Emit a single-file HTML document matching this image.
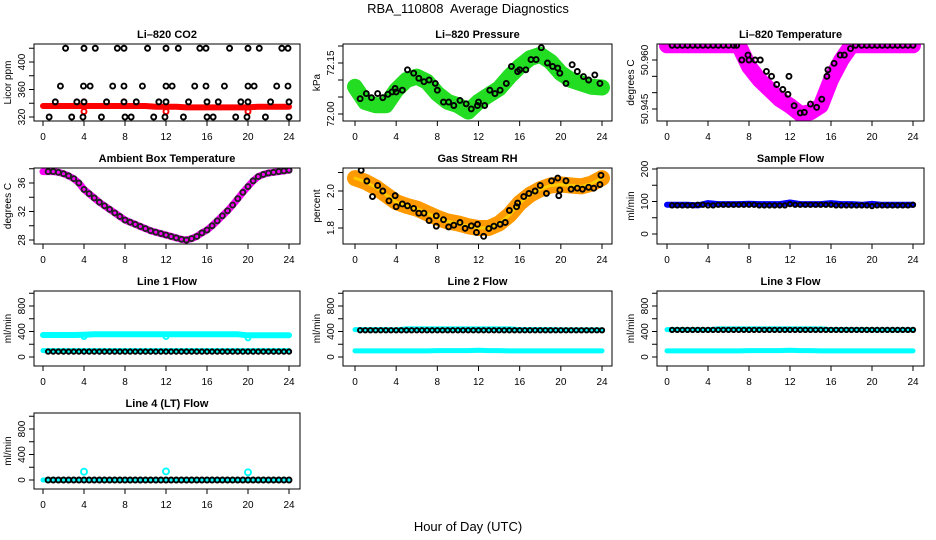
<!DOCTYPE html>
<html><head><meta charset="utf-8"><title>RBA_110808 Average Diagnostics</title>
<style>
html,body{margin:0;padding:0;background:#fff;}
svg{display:block;font-family:"Liberation Sans",sans-serif;}
text{white-space:pre;}
</style></head>
<body>
<svg id="chart" width="936" height="540" viewBox="0 0 936 540">
<text x="468" y="13" font-size="13" text-anchor="middle">RBA_110808  Average Diagnostics</text>
<text x="468" y="531" font-size="13" text-anchor="middle">Hour of Day (UTC)</text>
</svg>
<script>
// ---- data ----
const xTicks = [0,4,8,12,16,20,24];
const hourly = [0,1,2,3,4,5,6,7,8,9,10,11,12,13,14,15,16,17,18,19,20,21,22,23,24];
const halfHours = [0.5,1,1.5,2,2.5,3,3.5,4,4.5,5,5.5,6,6.5,7,7.5,8,8.5,9,9.5,10,10.5,11,11.5,12,12.5,13,13.5,14,14.5,15,15.5,16,16.5,17,17.5,18,18.5,19,19.5,20,20.5,21,21.5,22,22.5,23,23.5,24];

const co2Band = [336,336,336,336,336,336,336,336,336,336,336,335,335,335,334,334,334,334,334,334,334,335,335,335,335];
const co2Hours = [2.2,4.0,5.1,7.25,7.9,10.2,12.0,13.2,15.3,15.9,18.2,20.0,21.1,23.3,23.9,
 1.7,3.95,4.6,6.8,7.9,9.7,12.0,12.6,14.8,15.9,17.7,20.0,20.6,22.8,23.9,
 1.2,3.3,4.0,6.2,7.9,9.1,11.3,12.0,14.2,16.0,17.1,19.3,20.0,22.2,24.0,
 0.6,2.8,3.9,5.7,8.0,8.6,10.8,11.9,13.7,16.0,16.6,18.8,19.9,21.7,24.0];
const co2Vals = [420,420,420,420,420,420,420,420,420,420,420,420,420,420,420,
 365,365,365,365,365,365,365,365,365,365,365,365,365,365,365,
 342,342,342,342,342,342,342,342,342,342,342,342,342,342,342,
 320,320,320,320,320,320,320,320,320,320,320,320,320,320,320];
const co2OutHours = [4,12,20];
const co2OutVals = [328,328,328];

const presBand = [72.08,72.035,72.026,72.026,72.07,72.10,72.11,72.095,72.06,72.036,72.026,72.007,72.036,72.056,72.075,72.11,72.14,72.164,72.174,72.154,72.12,72.10,72.09,72.08,72.078];
const presHours = [0.5,1.1,1.6,2.2,2.7,3.2,3.6,3.9,4.0,4.6,5.1,5.7,6.2,6.7,7.2,7.8,8.0,8.6,9.1,9.6,10.2,10.8,11.3,11.9,12.0,12.6,13.1,13.6,14.1,14.7,15.2,15.8,16.0,16.6,17.1,17.6,18.1,18.7,19.2,19.7,19.9,20.5,21.1,21.6,22.2,22.7,23.3,23.8];
const presVals = [72.045,72.06,72.048,72.06,72.048,72.058,72.065,72.075,72.065,72.07,72.13,72.12,72.105,72.095,72.10,72.09,72.07,72.035,72.035,72.025,72.04,72.03,72.015,72.025,72.035,72.025,72.07,72.06,72.07,72.09,72.14,72.125,72.13,72.13,72.16,72.16,72.195,72.15,72.14,72.135,72.12,72.09,72.145,72.125,72.11,72.10,72.115,72.09];

const tempBand = [50.9645,50.9645,50.9645,50.9645,50.9645,50.9645,50.9645,50.9645,50.958,50.954,50.951,50.948,50.946,50.9435,50.944,50.946,50.954,50.960,50.9645,50.9645,50.9645,50.9645,50.9645,50.9645,50.9645];
const tempHours = [0.5,1,1.5,2,2.5,3,3.5,4,4.5,5,5.5,6,6.5,6.8,7.3,7.9,8.0,8.6,9.1,9.7,10.2,10.7,11.3,11.8,11.9,12.4,13.0,13.4,14.0,14.6,15.1,15.6,15.7,16.3,16.9,17.3,17.9,18.4,19,19.5,20,20.5,21,21.5,22,22.5,23,23.5,24];
const tempVals = [50.9645,50.9645,50.9645,50.9645,50.9645,50.9645,50.9645,50.9645,50.9645,50.9645,50.9645,50.9645,50.9645,50.9645,50.960,50.9615,50.960,50.960,50.960,50.9565,50.955,50.9525,50.951,50.9495,50.955,50.946,50.9438,50.944,50.9465,50.9455,50.948,50.955,50.957,50.959,50.9615,50.9615,50.9635,50.9645,50.9645,50.9645,50.9645,50.9645,50.9645,50.9645,50.9645,50.9645,50.9645,50.9645,50.9645];

const ambVals = [37.6,37.6,37.5,37.3,37.0,36.6,36.0,35.1,34.5,33.9,33.3,32.8,32.3,31.8,31.3,30.8,30.5,30.2,29.9,29.6,29.3,29.1,28.9,28.7,28.5,28.3,28.1,28.0,28.2,28.5,29.0,29.4,30.0,30.7,31.4,32.1,32.9,33.8,34.7,35.5,36.3,36.9,37.2,37.4,37.5,37.6,37.7,37.8];
const ambStart = 37.6;

const rhBand = [2.07,2.05,2.02,1.98,1.94,1.92,1.905,1.88,1.855,1.835,1.825,1.81,1.80,1.80,1.825,1.87,1.935,1.98,2.01,2.03,2.035,2.03,2.025,2.04,2.07];
const rhHours = [0.6,1.15,1.7,2.2,2.7,3.3,3.9,4.0,4.6,5.1,5.7,6.2,6.7,7.2,7.9,7.9,8.6,9.1,9.6,10.2,10.7,11.3,11.8,11.9,12.5,13.0,13.5,14.1,14.6,15.0,15.7,15.8,16.4,16.9,17.5,18.0,18.6,19.1,19.7,19.8,19.9,20.5,21.0,21.6,22.1,22.7,23.2,23.8,23.9];
const rhVals = [2.112,2.054,1.97,2.03,2.0,1.947,1.975,1.915,1.93,1.92,1.906,1.88,1.88,1.84,1.866,1.81,1.845,1.806,1.815,1.83,1.798,1.812,1.776,1.82,1.755,1.797,1.81,1.82,1.83,1.895,1.915,1.935,1.97,1.987,2.0,2.03,1.987,2.055,2.07,1.975,2.005,2.055,2.01,2.015,2.01,2.02,2.015,2.035,2.085];

const sampleBand = [90,90,90,88,95,92,92,92,93,92,92,92,97,92,92,92,95,92,92,90,93,90,90,90,90];
const sampleVals = [88,88,88,88,88,90,90,88,88,90,90,90,90,90,90,90,90,88,88,88,88,88,88,92,90,90,90,90,90,90,90,90,88,88,88,88,88,88,88,86,88,88,88,88,88,88,88,90];

const line1Top = [345,345,345,345,350,358,358,358,358,358,358,358,358,358,358,358,358,356,356,356,340,340,340,340,340];
const line1TopOutHours = [4,12,20];
const line1TopOutVals = [320,320,300];
const line1Low = [100,100,100,100,100,100,100,100,100,100,100,100,100,100,100,100,100,100,100,100,100,100,100,100,100];
const line1Black = 85;

const line2Top = [430,430,430,430,425,440,440,440,440,440,440,440,440,440,440,440,430,430,430,430,425,425,425,425,425];
const line2Low = [95,95,95,95,95,95,95,95,100,100,100,100,105,100,100,95,95,95,95,95,95,95,95,95,95];
const line2Black = 420;

const line3Top = [430,430,430,430,425,440,440,440,440,440,440,440,440,440,440,440,430,430,430,430,425,425,425,425,425];
const line3Low = [95,95,95,95,95,95,95,95,100,100,100,100,105,100,100,95,95,95,95,95,95,95,95,95,95];
const line3Black = 425;

const line4Band = [0,0,0,0,0,0,0,0,0,0,0,0,0,0,0,0,0,0,0,0,0,0,0,0,0];
const line4OutHours = [4,12,20];
const line4OutVals = [130,135,120];
const line4Black = 0;

// ---- drawing ----
const NS = 'http://www.w3.org/2000/svg';
const svg = document.getElementById('chart');
function mk(tag, attrs, parent){
  const e = document.createElementNS(NS, tag);
  for (const k in attrs) e.setAttribute(k, attrs[k]);
  (parent || svg).appendChild(e);
  return e;
}
let clipN = 0;
function panel(cfg){
  const [L,R,T,B] = cfg.box;
  const g = mk('g', {});
  
  
  const sx = h => cfg.x0 + (cfg.x24 - cfg.x0) * h / 24;
  const sy = v => cfg.p1 + (v - cfg.v1) * (cfg.p2 - cfg.p1) / (cfg.v2 - cfg.v1);
  const id = 'clip' + (clipN++);
  const cp = mk('clipPath', {id: id}, g);
  mk('rect', {x: L, y: T, width: R - L, height: B - T}, cp);
  const plot = mk('g', {'clip-path': 'url(#' + id + ')'}, g);
  
  
  const frame = mk('rect', {x: L, y: T, width: R - L, height: B - T, fill: 'none', stroke: '#000', 'stroke-width': 1}, g);
  
  
  const title = mk('text', {x: (L + R) / 2, y: T - 6, 'font-size': 11, 'font-weight': 'bold', 'text-anchor': 'middle'}, g);
  title.textContent = cfg.title;
  
  
  const xa = mk('g', {}, g);
  
  
  for (const t of xTicks) {
    mk('line', {x1: sx(t), x2: sx(t), y1: B, y2: B + 5, stroke: '#000'}, xa);
    const tx = mk('text', {x: sx(t), y: B + 19, 'font-size': 10, 'text-anchor': 'middle'}, xa);
    tx.textContent = String(t);
    
    
  }
  const ya = mk('g', {}, g);
  
  
  for (const t of cfg.yticks) {
    mk('line', {x1: L - 5, x2: L, y1: sy(t), y2: sy(t), stroke: '#000'}, ya);
  }
  for (const t of cfg.ylabels) {
    const tx = mk('text', {transform: 'translate(' + (L - 9) + ',' + sy(t) + ') rotate(-90)', 'font-size': 10, 'text-anchor': 'middle'}, ya);
    tx.textContent = typeof t === 'number' && cfg.fmt ? t.toFixed(cfg.fmt) : String(t);
    
    
  }
  const yl = mk('text', {transform: 'translate(' + (L - 23) + ',' + ((T + B) / 2) + ') rotate(-90)', 'font-size': 10, 'text-anchor': 'middle'}, g);
  yl.textContent = cfg.ylab;
  
  
  return {sx, sy, plot};
}
function band(P, xs, ys, color, w, name){
  const d = xs.map((x, i) => (i ? 'L' : 'M') + P.sx(x).toFixed(1) + ' ' + P.sy(ys[i]).toFixed(1)).join(' ');
  const p = mk('path', {d: d, fill: 'none', stroke: color, 'stroke-width': w, 'stroke-linecap': 'round', 'stroke-linejoin': 'round'}, P.plot);
  
  
}
function rings(P, xs, ys, color, name, r){
  const g = mk('g', {}, P.plot);
  
  
  xs.forEach((x, i) => {
    const c = mk('circle', {cx: P.sx(x), cy: P.sy(ys[i]), r: r || 2.5, fill: 'none', stroke: color, 'stroke-width': 1.9}, g);
    
    
  });
}
const col1 = {L: 34, R: 300, x0: 43, x24: 289};
const col2 = {L: 343, R: 612, x0: 355, x24: 602};
const col3 = {L: 657, R: 924, x0: 667, x24: 913};
const rows = [[44,121],[168,244],[291,366],[413,489]];
function cfg(col, row, o){
  return Object.assign({box: [col.L, col.R, rows[row][0], rows[row][1]], x0: col.x0, x24: col.x24}, o);
}
const flowTicks = [0,200,400,600,800,1000];
const flowLabels = [0,400,800];

// CO2
let P = panel(cfg(col1, 0, {name: 'co2', title: 'Li\u2013820 CO2', ylab: 'Licor ppm', v1: 320, p1: 117, v2: 400, p2: 62, yticks: [320,340,360,380,400,420], ylabels: [320,360,400]}));
band(P, hourly, co2Band, '#ff0000', 6, 'co2-series');
rings(P, co2OutHours, co2OutVals, '#ff0000', 'co2-red-outliers');
rings(P, co2Hours, co2Vals, '#000', 'co2-hourly-points');

// Pressure
P = panel(cfg(col2, 0, {name: 'pressure', title: 'Li\u2013820 Pressure', ylab: 'kPa', v1: 72.00, p1: 114, v2: 72.15, p2: 63, yticks: [72.00,72.05,72.10,72.15,72.20], ylabels: [72.00,72.15], fmt: 2}));
band(P, hourly, presBand, '#22dd22', 16, 'pressure-series');
rings(P, presHours, presVals, '#000', 'pressure-points');

// Temperature
P = panel(cfg(col3, 0, {name: 'licor-temp', title: 'Li\u2013820 Temperature', ylab: 'degrees C', v1: 50.945, p1: 109, v2: 50.960, p2: 60, yticks: [50.945,50.950,50.955,50.960], ylabels: [50.945,50.960], fmt: 3}));
band(P, hourly, tempBand, '#ff00ff', 16, 'licor-temp-series');
rings(P, tempHours, tempVals, '#000', 'licor-temp-points');

// Ambient
P = panel(cfg(col1, 1, {name: 'ambient', title: 'Ambient Box Temperature', ylab: 'degrees C', v1: 28, p1: 240, v2: 36, p2: 183, yticks: [28,30,32,34,36,38], ylabels: [28,32,36]}));
band(P, [0].concat(halfHours), [ambStart].concat(ambVals), '#ff00ff', 7, 'ambient-series');
rings(P, halfHours, ambVals, '#222', 'ambient-points');

// RH
P = panel(cfg(col2, 1, {name: 'rh', title: 'Gas Stream RH', ylab: 'percent', v1: 1.8, p1: 228, v2: 2.0, p2: 191, yticks: [1.8,1.9,2.0,2.1], ylabels: [1.8,2.0], fmt: 1}));
band(P, hourly, rhBand, '#ff9900', 16, 'rh-series');
band(P, hourly, rhBand, '#ffcc00', 3, 'rh-series-highlight');
rings(P, rhHours, rhVals, '#000', 'rh-points');

// Sample flow
P = panel(cfg(col3, 1, {name: 'sample-flow', title: 'Sample Flow', ylab: 'ml/min', v1: 0, p1: 234, v2: 200, p2: 169, yticks: [0,50,100,150,200], ylabels: [0,100,200]}));
band(P, hourly, sampleBand, '#0000ff', 6, 'sample-flow-series');
rings(P, halfHours, sampleVals, '#000', 'sample-flow-points', 2.2);

// Line flows
function flowPanel(col, row, name, title, map){
  return panel(cfg(col, row, {name: name, title: title, ylab: 'ml/min', v1: 0, p1: map[0], v2: 800, p2: map[1], yticks: flowTicks, ylabels: flowLabels}));
}
P = flowPanel(col1, 2, 'line1-flow', 'Line 1 Flow', [357, 306]);
band(P, hourly, line1Top, '#00ffff', 6, 'line1-flow-cyan-high');
rings(P, line1TopOutHours, line1TopOutVals, '#00ffff', 'line1-flow-cyan-dips');
band(P, hourly, line1Low, '#00ffff', 5, 'line1-flow-cyan-low');
rings(P, halfHours, halfHours.map(() => line1Black), '#000', 'line1-flow-points', 2.2);

P = flowPanel(col2, 2, 'line2-flow', 'Line 2 Flow', [357, 306]);
band(P, hourly, line2Top, '#00ffff', 5, 'line2-flow-cyan-high');
band(P, hourly, line2Low, '#00ffff', 5, 'line2-flow-cyan-low');
rings(P, halfHours, halfHours.map(() => line2Black), '#000', 'line2-flow-points', 2.2);

P = flowPanel(col3, 2, 'line3-flow', 'Line 3 Flow', [357, 306]);
band(P, hourly, line3Top, '#00ffff', 5, 'line3-flow-cyan-high');
band(P, hourly, line3Low, '#00ffff', 5, 'line3-flow-cyan-low');
rings(P, halfHours, halfHours.map(() => line3Black), '#000', 'line3-flow-points', 2.2);

P = flowPanel(col1, 3, 'line4-flow', 'Line 4 (LT) Flow', [480, 429]);
band(P, hourly, line4Band, '#00ffff', 5, 'line4-flow-cyan');
rings(P, line4OutHours, line4OutVals, '#00ffff', 'line4-flow-cyan-outliers', 3);
rings(P, halfHours, halfHours.map(() => line4Black), '#000', 'line4-flow-points', 2.5);
</script>
</body></html>
